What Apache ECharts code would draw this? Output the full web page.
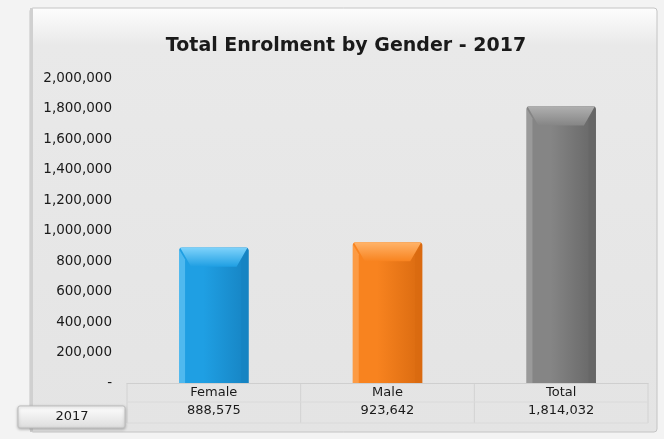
<!DOCTYPE html>
<html>
<head>
<meta charset="utf-8">
<style>
  html, body { margin: 0; padding: 0; background: #f3f3f3; }
  #chart { width: 664px; height: 439px; }
</style>
<script src="https://cdn.jsdelivr.net/npm/echarts@6/dist/echarts.min.js"></script>
</head>
<body>
<div id="chart"></div>
<script>
// Enrolment figures for 2017
const categories = ['Female', 'Male', 'Total'];
const enrolment = [888575, 923642, 1814032];
const seriesName = '2017';
const yTicks = { min: 0, max: 2000000, interval: 200000 };

// face colours: [light, base, dark]
const barPalette = [
  ['#7fd3fb', '#1f9fe3', '#1683c2'],
  ['#ffb46a', '#f8831f', '#d96a10'],
  ['#b0b0b0', '#858585', '#666666']
];

const FONT = 'DejaVu Sans, Liberation Sans, Arial, sans-serif';
const fmt = v => v.toString().replace(/\B(?=(\d{3})+(?!\d))/g, ',');

const chart = echarts.init(document.getElementById('chart'));

// bevelled column: flat face, lighter top chamfer, light left edge, dark right edge
function bevelBar(params, api) {
  const idx = api.value(0);
  const top = api.coord([idx, api.value(1)]);
  const base = api.coord([idx, 0]);
  const w = api.size([1, 0])[0] * 0.4;
  const x0 = top[0] - w / 2, x1 = top[0] + w / 2;
  const y0 = top[1], y1 = base[1];
  const b = 12;
  const c = barPalette[params.dataIndex];
  const face = new echarts.graphic.LinearGradient(0, 0, 1, 0, [
    { offset: 0, color: c[1] },
    { offset: 0.35, color: c[1] },
    { offset: 1, color: c[2] }
  ]);
  return {
    type: 'group',
    children: [
      { type: 'rect', shape: { x: x0, y: y0, width: w, height: y1 - y0, r: [3, 3, 0, 0] }, style: { fill: face } },
      { type: 'polygon', shape: { points: [[x0 + 1, y0], [x1 - 1, y0], [x1 - b, y0 + b * 1.6], [x0 + b, y0 + b * 1.6]] },
        style: { fill: new echarts.graphic.LinearGradient(0, 0, 0, 1, [
          { offset: 0, color: c[0] }, { offset: 1, color: c[1] }]) } },
      { type: 'polygon', shape: { points: [[x0, y0 + 2], [x0 + b * 0.5, y0 + b], [x0 + b * 0.5, y1], [x0, y1]] },
        style: { fill: c[0], opacity: 0.5 } },
      { type: 'polygon', shape: { points: [[x1, y0 + 2], [x1 - b * 0.6, y0 + b], [x1 - b * 0.6, y1], [x1, y1]] },
        style: { fill: c[2], opacity: 0.8 } }
    ]
  };
}

chart.setOption({
  animation: false,
  textStyle: { fontFamily: FONT },
  title: {
    text: 'Total Enrolment by Gender - 2017',
    left: 341, top: 32, textAlign: 'center',
    textStyle: { fontSize: 19, fontWeight: 'bold', color: '#1a1a1a', fontFamily: FONT }
  },
  grid: { left: 127, right: 16, top: 78, bottom: 56 },
  xAxis: {
    type: 'category',
    data: categories,
    axisLine: { lineStyle: { color: '#cfcfcf' } },
    axisTick: { show: false },
    axisLabel: {
      margin: 1,
      formatter: (name, i) => '{n|' + name + '}\n{v|' + fmt(enrolment[i]) + '}',
      rich: {
        n: { fontSize: 13, color: '#1a1a1a', lineHeight: 18, fontFamily: FONT },
        v: { fontSize: 13, color: '#1a1a1a', lineHeight: 18, fontFamily: FONT }
      }
    }
  },
  yAxis: {
    type: 'value',
    min: yTicks.min, max: yTicks.max, interval: yTicks.interval,
    axisLine: { show: false },
    axisTick: { show: false },
    splitLine: { show: false },
    axisLabel: {
      margin: 15, fontSize: 13.5, color: '#1a1a1a', fontFamily: FONT,
      formatter: v => v === 0 ? '-' : fmt(v)
    }
  },
  series: [{
    name: seriesName,
    type: 'custom',
    renderItem: bevelBar,
    encode: { x: 0, y: 1 },
    data: enrolment.map((v, i) => [i, v])
  }]
});

// chart frame, data-table rules and the series key cell
const axisY = chart.convertToPixel({ yAxisIndex: 0 }, 0);
const step = chart.convertToPixel({ xAxisIndex: 0 }, 1) - chart.convertToPixel({ xAxisIndex: 0 }, 0);
const firstX = chart.convertToPixel({ xAxisIndex: 0 }, 0) - step / 2;
const tableBottom = axisY + 40;
const rules = [];
for (let i = 0; i <= categories.length; i++) {
  const x = firstX + i * step;
  rules.push({ type: 'line', z: -1, shape: { x1: x, y1: axisY, x2: x, y2: tableBottom },
    style: { stroke: '#d2d2d2', lineWidth: 1 } });
}
rules.push({ type: 'line', z: -1, shape: { x1: firstX, y1: axisY + 19, x2: firstX + step * categories.length, y2: axisY + 19 },
  style: { stroke: '#dadada', lineWidth: 1 } });
rules.push({ type: 'line', z: -1, shape: { x1: firstX, y1: tableBottom, x2: firstX + step * categories.length, y2: tableBottom },
  style: { stroke: '#dadada', lineWidth: 1 } });

chart.setOption({
  graphic: [
    { type: 'rect', z: -10, shape: { x: 30, y: 8, width: 627, height: 424, r: 3 },
      style: { fill: new echarts.graphic.LinearGradient(0, 0, 0, 1, [
        { offset: 0, color: '#fdfdfd' }, { offset: 0.09, color: '#e9e9e9' }, { offset: 1, color: '#e4e4e4' }]),
        stroke: '#c4c4c4', lineWidth: 1 } },
    { type: 'rect', z: -9, shape: { x: 30, y: 8, width: 3, height: 424 }, style: { fill: '#d0d0d0' } },
    ...rules,
    { type: 'rect', z: -1, shape: { x: 18, y: axisY + 23, width: 107, height: 22, r: 2 },
      style: { fill: new echarts.graphic.LinearGradient(0, 0, 0, 1, [
        { offset: 0, color: '#ffffff' }, { offset: 1, color: '#dcdcdc' }]),
        stroke: '#bdbdbd', lineWidth: 1, shadowColor: 'rgba(0,0,0,0.25)', shadowBlur: 3, shadowOffsetY: 1 } },
    { type: 'text', z: 1, x: 72, y: axisY + 34,
      style: { text: seriesName, fontSize: 13, fill: '#1a1a1a', align: 'center', verticalAlign: 'middle',
        fontFamily: FONT } }
  ]
});
</script>
</body>
</html>
